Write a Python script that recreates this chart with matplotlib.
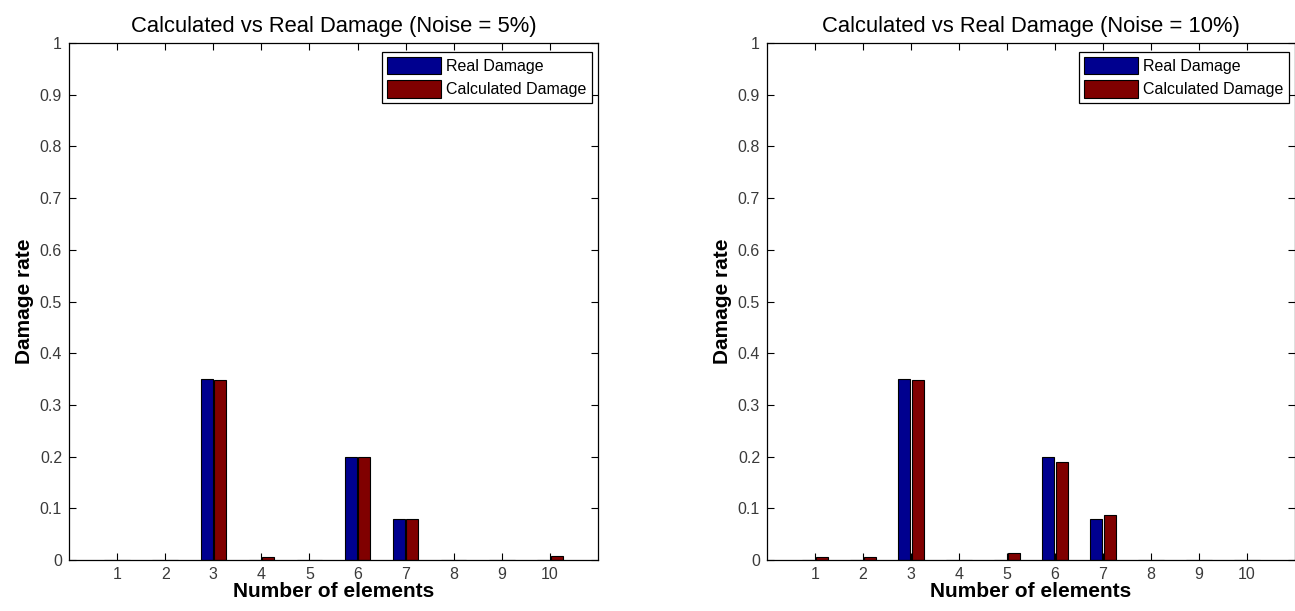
import numpy as np
import matplotlib
matplotlib.use("Agg")
import matplotlib.pyplot as plt

plt.rcParams['font.family'] = ['Liberation Sans', 'DejaVu Sans']

# element numbers and damage values
elements = [1, 2, 3, 4, 5, 6, 7, 8, 9, 10]
realDamage = [0, 0, 0.35, 0, 0, 0.20, 0.08, 0, 0, 0]
calcDamage5 = [0, 0, 0.348, 0.005, 0, 0.20, 0.08, 0, 0, 0.007]
calcDamage10 = [0.005, 0.005, 0.348, 0, 0.014, 0.19, 0.088, 0, 0, 0]
noiseLevels = ["5%", "10%"]
yTicks = [0, 0.1, 0.2, 0.3, 0.4, 0.5, 0.6, 0.7, 0.8, 0.9, 1]
yTickLabels = ["0", "0.1", "0.2", "0.3", "0.4", "0.5", "0.6", "0.7", "0.8", "0.9", "1"]

blue = "#00008f"
red = "#800000"


def drawPanel(ax, real, calc, noise):
    x = np.array(elements)
    w = 0.25
    ax.bar(x - 0.14, real, width=w, color=blue, edgecolor="black", linewidth=0.8, label="Real Damage")
    ax.bar(x + 0.14, calc, width=w, color=red, edgecolor="black", linewidth=0.8, label="Calculated Damage")

    ax.set_xlim(0, 11)
    ax.set_ylim(0, 1)
    ax.set_xticks(elements)
    ax.set_yticks(yTicks)
    ax.set_yticklabels(yTickLabels)
    ax.tick_params(direction="in", top=True, right=True, length=5, width=0.8,
                   labelsize=11.5, labelcolor="#3a3a3a", pad=5)
    for s in ax.spines.values():
        s.set_linewidth(0.9)

    ax.set_title("Calculated vs Real Damage (Noise = %s)" % noise, fontsize=15.8, pad=8)
    ax.set_xlabel("Number of elements", fontsize=15, fontweight="bold", labelpad=0)
    ax.set_ylabel("Damage rate", fontsize=15, fontweight="bold", labelpad=4)

    leg = ax.legend(loc="upper right", bbox_to_anchor=(0.988, 0.983), fontsize=11.5,
                    fancybox=False, edgecolor="black", framealpha=1,
                    handlelength=3.4, handleheight=1.3, handletextpad=0.35,
                    borderpad=0.3, labelspacing=0.4, borderaxespad=0)
    leg.get_frame().set_linewidth(0.9)


fig = plt.figure(figsize=(12.95, 6.11), dpi=100)
axLeft = fig.add_axes([69 / 1295, 51 / 611, 529 / 1295, 517 / 611])
axRight = fig.add_axes([767 / 1295, 51 / 611, 528 / 1295, 517 / 611])

drawPanel(axLeft, realDamage, calcDamage5, noiseLevels[0])
drawPanel(axRight, realDamage, calcDamage10, noiseLevels[1])

fig.savefig("out.png", dpi=100)
